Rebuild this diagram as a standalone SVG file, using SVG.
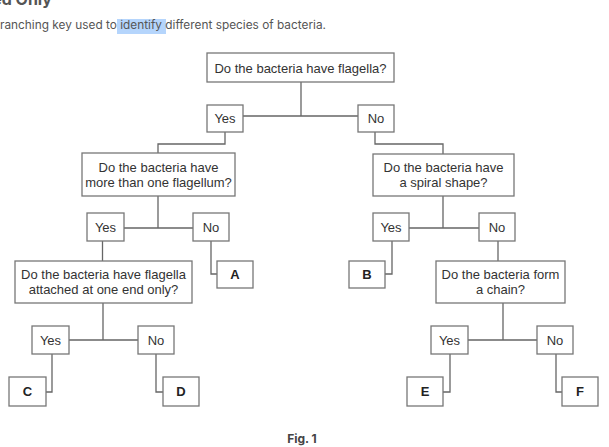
<svg xmlns="http://www.w3.org/2000/svg" width="609" height="447" viewBox="0 0 609 447">
<style>
.bx{fill:#fff;stroke:#777;stroke-width:1.3}
.t{font-family:"Liberation Sans",Arial,sans-serif;font-size:13px;fill:#333;text-anchor:middle}
.l{font-family:"Liberation Sans",Arial,sans-serif;font-size:13px;font-weight:bold;fill:#222;text-anchor:middle}
.c{fill:none;stroke:#666;stroke-width:1.3}
.hd{font-family:Inter,"Noto Sans",sans-serif;fill:#555}
</style>
<rect width="609" height="447" fill="#fff"/>
<text class="hd" x="52" y="5" font-size="16" font-weight="bold" text-anchor="end" fill="#333">ed Only</text>
<rect x="117" y="19" width="49" height="15" fill="#b5d5fc"/>
<text class="hd" x="0" y="29" font-size="11.5" textLength="326" lengthAdjust="spacingAndGlyphs">ranching key used to identify different species of bacteria.</text>
<g id="connectors">
<path class="c" d="M301 82V116M243 116H358"/>
<path class="c" d="M225 132V144H158V153"/>
<path class="c" d="M375 132V144H443V154"/>
<path class="c" d="M158 196V228M124 228H193"/>
<path class="c" d="M102.5 241V261"/>
<path class="c" d="M211 241V274H217"/>
<path class="c" d="M103 303V340M69 340H138"/>
<path class="c" d="M52 354V392H46"/>
<path class="c" d="M156 354V392H163"/>
<path class="c" d="M443 196V228M409 228H479"/>
<path class="c" d="M392 241V274H385"/>
<path class="c" d="M498 241V261"/>
<path class="c" d="M503 303V340M468 340H537"/>
<path class="c" d="M450 354V392H443"/>
<path class="c" d="M556 354V392H562"/>
</g>
<g id="q1"><rect class="bx" x="207" y="53" width="187" height="29"/><text class="t" x="300.5" y="72.5">Do the bacteria have flagella?</text></g>
<g id="y1"><rect class="bx" x="207" y="105" width="36" height="27"/><text class="t" x="225" y="123">Yes</text></g>
<g id="n1"><rect class="bx" x="358" y="105" width="36" height="27"/><text class="t" x="376" y="123">No</text></g>
<g id="q2"><rect class="bx" x="82" y="153" width="153" height="43"/><text class="t" x="158.5" y="171.5">Do the bacteria have</text><text class="t" x="158.5" y="186.5">more than one flagellum?</text></g>
<g id="q4"><rect class="bx" x="373" y="154" width="141" height="42"/><text class="t" x="443.5" y="172">Do the bacteria have</text><text class="t" x="443.5" y="187">a spiral shape?</text></g>
<g id="y2"><rect class="bx" x="87" y="213" width="37" height="28"/><text class="t" x="105.5" y="231.5">Yes</text></g>
<g id="n2"><rect class="bx" x="193" y="213" width="36" height="28"/><text class="t" x="211" y="231.5">No</text></g>
<g id="y4"><rect class="bx" x="373" y="213" width="36" height="28"/><text class="t" x="391" y="231.5">Yes</text></g>
<g id="n4"><rect class="bx" x="479" y="213" width="36" height="28"/><text class="t" x="497" y="231.5">No</text></g>
<g id="q3"><rect class="bx" x="15" y="261" width="177" height="42"/><text class="t" x="103.5" y="279">Do the bacteria have flagella</text><text class="t" x="103.5" y="294">attached at one end only?</text></g>
<g id="A"><rect class="bx" x="217" y="261" width="36" height="27"/><text class="l" x="235" y="279">A</text></g>
<g id="B"><rect class="bx" x="349" y="261" width="36" height="27"/><text class="l" x="367" y="279">B</text></g>
<g id="q5"><rect class="bx" x="436" y="261" width="129" height="42"/><text class="t" x="500.5" y="279">Do the bacteria form</text><text class="t" x="500.5" y="294">a chain?</text></g>
<g id="y3"><rect class="bx" x="32" y="326" width="37" height="28"/><text class="t" x="50.5" y="344.5">Yes</text></g>
<g id="n3"><rect class="bx" x="138" y="326" width="36" height="28"/><text class="t" x="156" y="344.5">No</text></g>
<g id="y5"><rect class="bx" x="431" y="326" width="37" height="28"/><text class="t" x="449.5" y="344.5">Yes</text></g>
<g id="n5"><rect class="bx" x="537" y="326" width="36" height="28"/><text class="t" x="555" y="344.5">No</text></g>
<g id="C"><rect class="bx" x="9" y="377" width="37" height="29"/><text class="l" x="27.5" y="396">C</text></g>
<g id="D"><rect class="bx" x="163" y="377" width="36" height="29"/><text class="l" x="181" y="396">D</text></g>
<g id="E"><rect class="bx" x="407" y="377" width="36" height="29"/><text class="l" x="425" y="396">E</text></g>
<g id="F"><rect class="bx" x="562" y="377" width="36" height="29"/><text class="l" x="580" y="396">F</text></g>
<text x="302" y="443" font-family="Inter,'Noto Sans',sans-serif" font-size="12" font-weight="bold" fill="#444" text-anchor="middle">Fig. 1</text>
</svg>
